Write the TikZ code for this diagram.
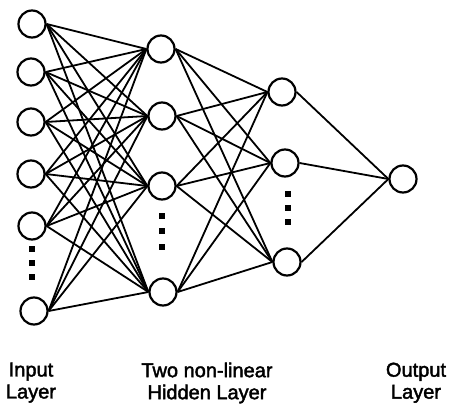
\documentclass[tikz,border=0pt]{standalone}
\usepackage{fontspec}
\setmainfont{Liberation Sans}
\newfontfamily\lblfont[FakeBold=2]{Liberation Sans}
\usetikzlibrary{backgrounds}
\begin{document}
\begin{tikzpicture}[x=1pt,y=-1pt,
  neuron/.style={circle,draw=black,line width=2.2pt,minimum size=27pt,inner sep=0pt,fill=white},
  link/.style={line width=1.8pt,black},
  vdot/.style={fill=black,minimum width=6pt,minimum height=6.5pt,inner sep=0pt,draw=none,rectangle},
  lbl/.style={font=\lblfont\fontsize{20pt}{22pt}\selectfont,align=center,anchor=north,inner sep=0pt}]
\useasboundingbox (0,0) rectangle (450,406);
% input layer
\node[neuron] (i1) at (32,24) {};
\node[neuron] (i2) at (31,72) {};
\node[neuron] (i3) at (31,122) {};
\node[neuron] (i4) at (31,174) {};
\node[neuron] (i5) at (32,226) {};
\node[neuron] (i6) at (34,311) {};
% hidden layer 1
\node[neuron] (a1) at (161,49) {};
\node[neuron] (a2) at (162,116) {};
\node[neuron] (a3) at (162,186) {};
\node[neuron] (a4) at (163,292) {};
% hidden layer 2
\node[neuron] (b1) at (282,92) {};
\node[neuron] (b2) at (285,163) {};
\node[neuron] (b3) at (287,262) {};
% output
\node[neuron] (o1) at (403,179) {};
% connections
\begin{scope}[on background layer]
\foreach \s in {i1,i2,i3,i4,i5,i6}
  \foreach \t in {a1,a2,a3,a4}
    \draw[link] (\s.east) -- (\t.west);
\foreach \s in {a1,a2,a3,a4}
  \foreach \t in {b1,b2,b3}
    \draw[link] (\s.east) -- (\t.west);
\foreach \s in {b1,b2,b3}
  \draw[link] (\s.east) -- (o1.west);
\end{scope}
% ellipsis dots
\node[vdot] (di1) at (32,249) {};
\node[vdot] (di2) at (32,263) {};
\node[vdot] (di3) at (32,277) {};
\node[vdot] (da1) at (162,216) {};
\node[vdot] (da2) at (162,231) {};
\node[vdot] (da3) at (162,247) {};
\node[vdot] (db1) at (288,194) {};
\node[vdot] (db2) at (288,208) {};
\node[vdot] (db3) at (288,222) {};
% labels
\node[lbl] (lin) at (31,362.5) {Input\\Layer};
\node[lbl] (lhid) at (207,362.5) {Two non-linear\\Hidden Layer};
\node[lbl] (lout) at (416,362.5) {Output\\Layer};
\end{tikzpicture}
\end{document}
